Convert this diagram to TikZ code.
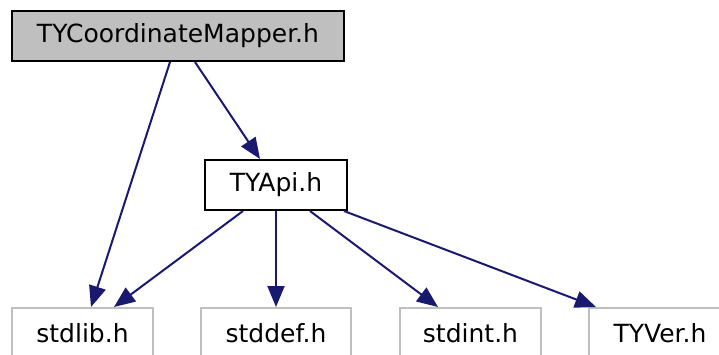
\documentclass[tikz,border=0pt]{standalone}
\usepackage{fontspec}
\setmainfont{DejaVu Sans}
\usetikzlibrary{arrows.meta}
\definecolor{edgeblue}{HTML}{191970}
\definecolor{boxgray}{HTML}{BFBFBF}
\tikzset{cur/.style={minimum width=332pt, minimum height=50pt, draw=black, line width=2pt, fill=boxgray, font=\fontsize{25}{30}\selectfont, inner sep=0pt},
        hdr/.style={minimum height=50pt, draw=black, line width=2pt, fill=white, font=\fontsize{25}{30}\selectfont, inner sep=0pt},
        sys/.style={minimum height=50pt, draw=boxgray, line width=2pt, fill=white, font=\fontsize{25}{30}\selectfont, inner sep=0pt},
        inc/.style={draw=edgeblue, line width=2pt, -{Triangle[length=21pt,width=17pt]}}}

\begin{document}
\begin{tikzpicture}[x=1pt, y=-1pt]
    \useasboundingbox (0,0) rectangle (719,354);

    % the file itself and the header it pulls in
    \node[cur] (cm) at (178,36) {TYCoordinateMapper.h};
    \node[hdr, minimum width=142pt] (api) at (276,185) {TYApi.h};

    % system and version headers along the bottom
    \node[sys, minimum width=141pt] (stdlib) at (82.5,333) {stdlib.h};
    \node[sys, minimum width=150pt] (stddef) at (276,333) {stddef.h};
    \node[sys, minimum width=141pt] (stdint) at (470.5,333) {stdint.h};
    \node[sys, minimum width=142pt] (tyver) at (660,333) {TYVer.h};

    % include edges
    \draw[inc] ([xshift=-8pt] cm.south) -- ([xshift=8.5pt] stdlib.north);
    \draw[inc] ([xshift=17pt] cm.south) -- ([xshift=-16pt] api.north);
    \draw[inc] ([xshift=-33pt] api.south) -- ([xshift=31.5pt] stdlib.north);
    \draw[inc] (api.south) -- (stddef.north);
    \draw[inc] ([xshift=34pt] api.south) -- ([xshift=-32.5pt] stdint.north);
    \draw[inc] ([xshift=-4pt] api.south east) -- ([xshift=8pt] tyver.north west);
  \end{tikzpicture}
\end{document}
